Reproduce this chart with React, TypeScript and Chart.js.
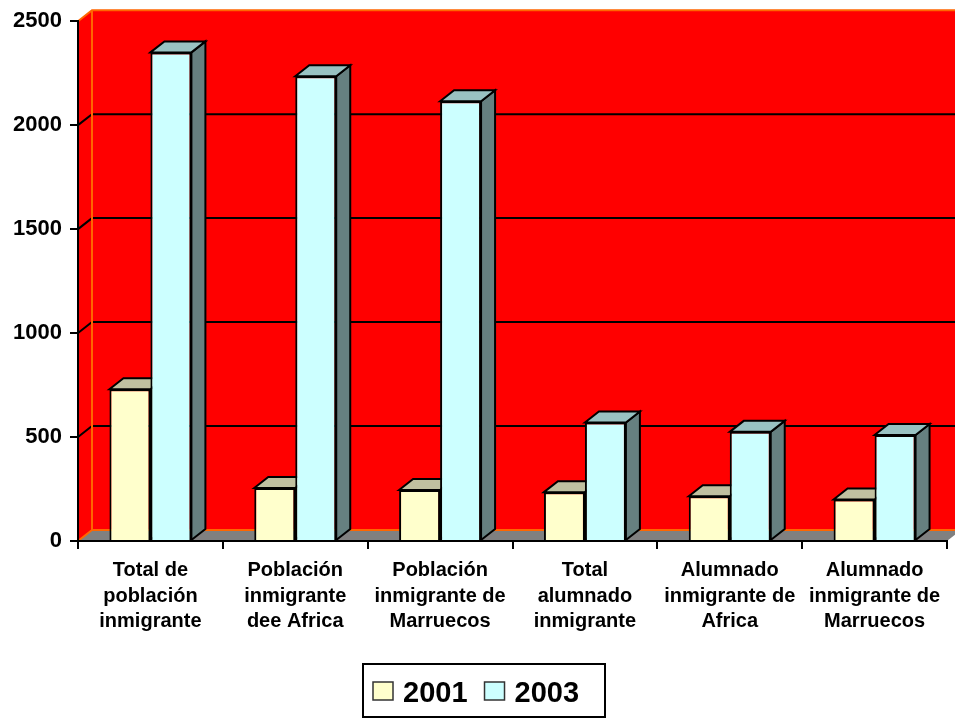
import React, { useEffect, useRef } from "react";
import { Chart, registerables } from "chart.js";

Chart.register(...registerables);

// Categories (multi-line axis labels)
const categories: string[][] = [
  ["Total de", "población", "inmigrante"],
  ["Población", "inmigrante", "dee Africa"],
  ["Población", "inmigrante de", "Marruecos"],
  ["Total", "alumnado", "inmigrante"],
  ["Alumnado", "inmigrante de", "Africa"],
  ["Alumnado", "inmigrante de", "Marruecos"],
];

const seriesLabels = ["2001", "2003"];
const values2001 = [730, 255, 245, 235, 215, 200];
const values2003 = [2350, 2235, 2115, 570, 525, 510];
const yTicks = [0, 500, 1000, 1500, 2000, 2500];

const FONT = '"Liberation Sans", Arial, Helvetica, sans-serif';

// 3D depth offset of walls and bars
const DX = 14;
const DY = -11;

const frontColors = ["#FFFFCC", "#CCFFFF"];
const topColors = ["#C0C0A0", "#99C2C2"];
const sideColors = ["#808066", "#668080"];

const wallPlugin = {
  id: "wall3d",
  beforeDraw(chart: any) {
    const { ctx, chartArea: a, scales } = chart;
    const ys = scales.y;
    ctx.save();
    ctx.lineJoin = "miter";

    // back wall
    ctx.fillStyle = "#FF0000";
    ctx.beginPath();
    ctx.moveTo(a.left + DX, a.top + DY);
    ctx.lineTo(a.right + DX + 20, a.top + DY);
    ctx.lineTo(a.right + DX + 20, a.bottom + DY);
    ctx.lineTo(a.left + DX, a.bottom + DY);
    ctx.closePath();
    ctx.fill();

    // side wall
    ctx.beginPath();
    ctx.moveTo(a.left, a.top);
    ctx.lineTo(a.left + DX, a.top + DY);
    ctx.lineTo(a.left + DX, a.bottom + DY);
    ctx.lineTo(a.left, a.bottom);
    ctx.closePath();
    ctx.fill();

    // floor
    ctx.fillStyle = "#808080";
    ctx.beginPath();
    ctx.moveTo(a.left, a.bottom);
    ctx.lineTo(a.right, a.bottom);
    ctx.lineTo(a.right + DX, a.bottom + DY);
    ctx.lineTo(a.left + DX, a.bottom + DY);
    ctx.closePath();
    ctx.fill();

    // gridlines on the walls
    ctx.strokeStyle = "#000000";
    ctx.lineWidth = 2;
    ys.ticks.forEach((t: any) => {
      if (t.value <= ys.min || t.value >= ys.max) return;
      const yy = ys.getPixelForValue(t.value);
      ctx.beginPath();
      ctx.moveTo(a.left, yy);
      ctx.lineTo(a.left + DX, yy + DY);
      ctx.lineTo(a.right + DX + 20, yy + DY);
      ctx.stroke();
    });

    // wall edges
    ctx.strokeStyle = "#FF6600";
    ctx.lineWidth = 2;
    ctx.beginPath();
    ctx.moveTo(a.left, a.top);
    ctx.lineTo(a.left + DX, a.top + DY);
    ctx.lineTo(a.right + DX + 20, a.top + DY);
    ctx.moveTo(a.left + DX, a.top + DY);
    ctx.lineTo(a.left + DX, a.bottom + DY);
    ctx.lineTo(a.right + DX + 20, a.bottom + DY);
    ctx.moveTo(a.left, a.bottom);
    ctx.lineTo(a.left + DX, a.bottom + DY);
    ctx.stroke();
    ctx.restore();
  },
  beforeDatasetsDraw(chart: any) {
    const { ctx } = chart;
    ctx.save();
    ctx.strokeStyle = "#000000";
    ctx.lineWidth = 2;
    ctx.lineJoin = "miter";
    chart.data.datasets.forEach((_: any, di: number) => {
      const meta = chart.getDatasetMeta(di);
      meta.data.forEach((bar: any) => {
        const { x, y, base, width } = bar.getProps(["x", "y", "base", "width"], true);
        const l = x - width / 2;
        const r = x + width / 2;
        // side face
        ctx.fillStyle = sideColors[di];
        ctx.beginPath();
        ctx.moveTo(r, y);
        ctx.lineTo(r + DX, y + DY);
        ctx.lineTo(r + DX, base + DY);
        ctx.lineTo(r, base);
        ctx.closePath();
        ctx.fill();
        ctx.stroke();
        // top face
        ctx.fillStyle = topColors[di];
        ctx.beginPath();
        ctx.moveTo(l, y);
        ctx.lineTo(l + DX, y + DY);
        ctx.lineTo(r + DX, y + DY);
        ctx.lineTo(r, y);
        ctx.closePath();
        ctx.fill();
        ctx.stroke();
      });
    });
    ctx.restore();
  },
  afterDraw(chart: any) {
    // boxed legend below the axis
    const { ctx } = chart;
    const boxX = 363;
    const boxY = 664;
    const boxW = 242;
    const boxH = 53;
    ctx.save();
    ctx.strokeStyle = "#000000";
    ctx.lineWidth = 2;
    ctx.strokeRect(boxX, boxY, boxW, boxH);
    ctx.font = `bold 29px ${FONT}`;
    ctx.textBaseline = "alphabetic";
    ctx.textAlign = "left";
    let x = boxX + 10;
    chart.data.datasets.forEach((ds: any) => {
      ctx.fillStyle = ds.backgroundColor;
      ctx.fillRect(x, 682, 20, 18);
      ctx.strokeStyle = "#333333";
      ctx.lineWidth = 1.5;
      ctx.strokeRect(x, 682, 20, 18);
      x += 30;
      ctx.fillStyle = "#000000";
      ctx.fillText(ds.label, x, 702);
      x += ctx.measureText(ds.label).width + 17;
    });
    ctx.restore();
  },
};

export default function App() {
  const canvasRef = useRef<HTMLCanvasElement | null>(null);

  useEffect(() => {
    const canvas = canvasRef.current;
    if (!canvas) return;
    const chart = new Chart(canvas, {
      type: "bar",
      data: {
        labels: categories,
        datasets: [
          {
            label: seriesLabels[0],
            data: values2001,
            backgroundColor: frontColors[0],
            borderColor: "#000000",
            borderWidth: 2,
          },
          {
            label: seriesLabels[1],
            data: values2003,
            backgroundColor: frontColors[1],
            borderColor: "#000000",
            borderWidth: 2,
          },
        ],
      },
      options: {
        responsive: false,
        animation: false,
        devicePixelRatio: 1,
        layout: { padding: { top: 20, right: 8, left: 0, bottom: 0 } },
        datasets: {
          bar: { categoryPercentage: 0.566, barPercentage: 1 },
        },
        plugins: {
          legend: { display: false },
          tooltip: { enabled: false },
        },
        scales: {
          x: {
            grid: {
              drawOnChartArea: false,
              drawTicks: true,
              tickLength: 8,
              color: "#000000",
              lineWidth: 2,
              offset: true,
            },
            border: { display: true, color: "#000000", width: 2 },
            ticks: {
              color: "#000000",
              autoSkip: false,
              maxRotation: 0,
              padding: 9,
              font: { family: FONT, size: 20, weight: "bold", lineHeight: 1.275 },
            },
            afterFit(scale: any) {
              scale.height = 177;
              scale.paddingLeft = 0;
              scale.paddingRight = 0;
            },
          },
          y: {
            min: 0,
            max: 2500,
            afterBuildTicks(scale: any) {
              scale.ticks = yTicks.map((v) => ({ value: v }));
            },
            grid: {
              drawOnChartArea: false,
              drawTicks: true,
              tickLength: 8,
              color: "#000000",
              lineWidth: 2,
            },
            border: { display: true, color: "#000000", width: 2 },
            ticks: {
              color: "#000000",
              padding: 8,
              font: { family: FONT, size: 22, weight: "bold" },
              callback: (v: any) => String(v),
            },
            afterFit(scale: any) {
              scale.width = 78;
            },
          },
        },
      },
      plugins: [wallPlugin],
    } as any);
    return () => chart.destroy();
  }, []);

  return (
    <canvas
      ref={canvasRef}
      width={955}
      height={718}
      style={{ position: "absolute", left: 0, top: 0, width: 955, height: 718 }}
    />
  );
}
